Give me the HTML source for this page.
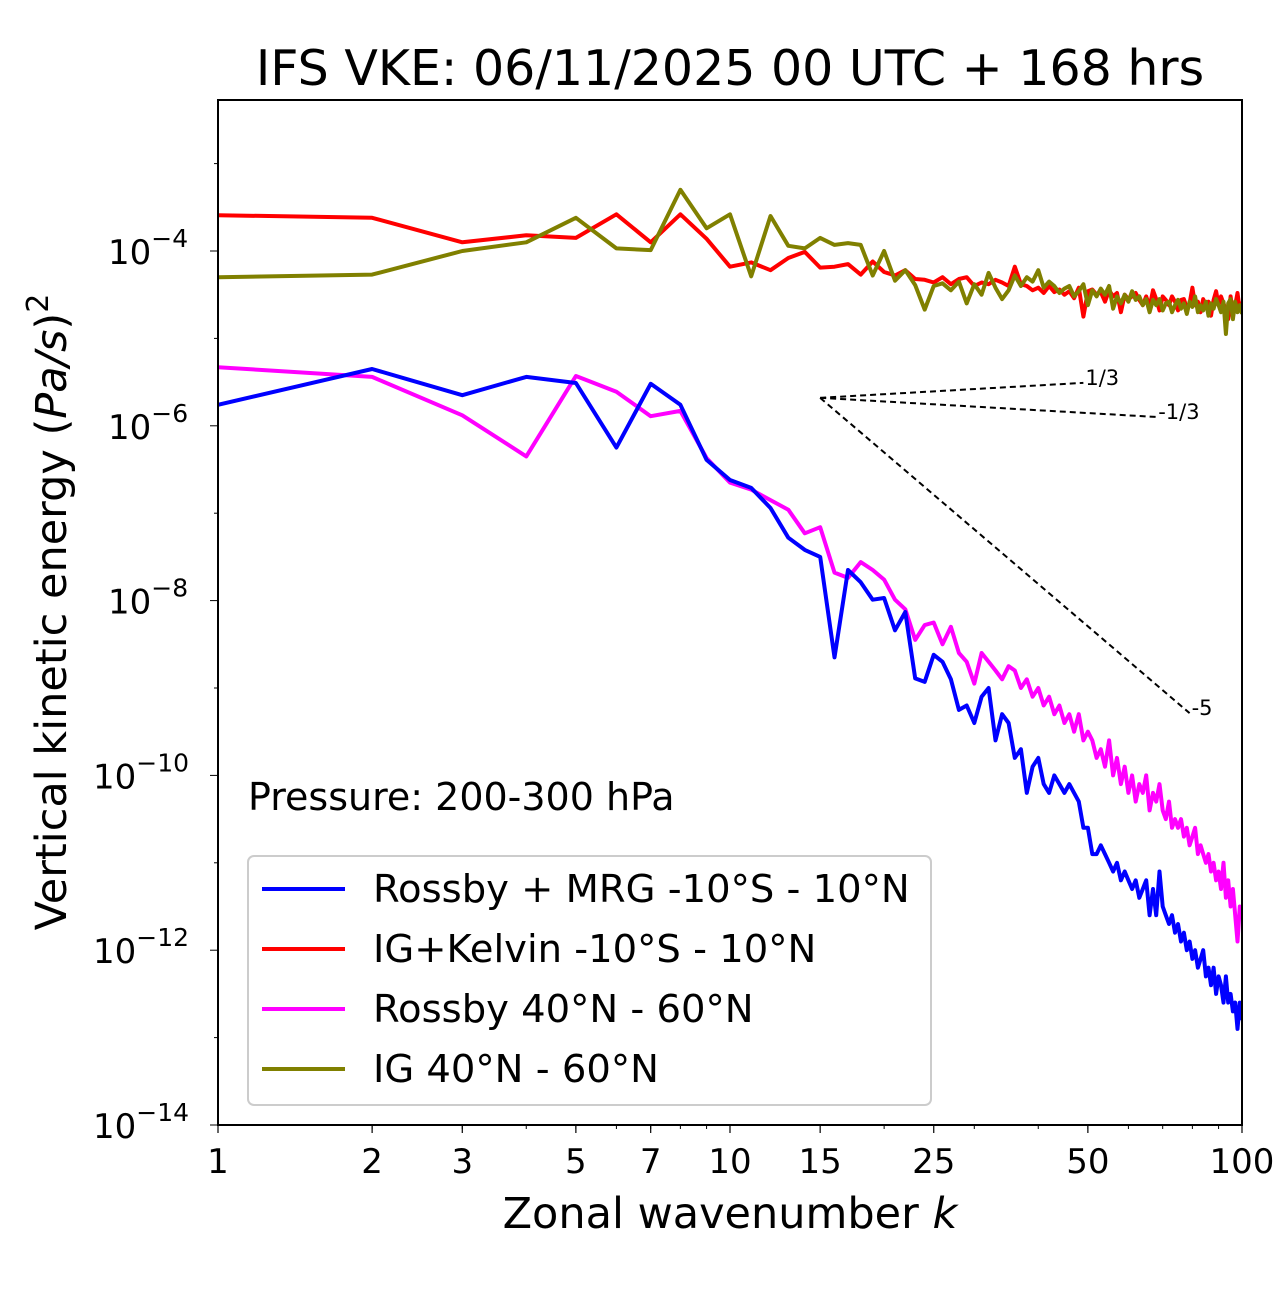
<!DOCTYPE html>
<html><head><meta charset="utf-8">
<style>
body{margin:0;background:#fff;}
svg text{font-family:"DejaVu Sans","Liberation Sans",sans-serif;fill:#000;}
</style></head>
<body>
<svg id="chart" width="1280" height="1288" xmlns="http://www.w3.org/2000/svg">
<text x="730" y="85" font-size="49" text-anchor="middle">IFS VKE: 06/11/2025 00 UTC + 168 hrs</text>
<g id="plot"></g>
</svg>
<script>
// log10 of energy, index = wavenumber k-1 (k = 1..100)
const blueLog = [-5.76,-5.35,-5.65,-5.44,-5.51,-6.25,-5.52,-5.76,-6.39,-6.62,-6.71,-6.94,-7.28,-7.42,-7.50,-8.65,-7.65,-7.79,-7.99,-7.97,-8.34,-8.13,-8.89,-8.93,-8.62,-8.7,-8.9,-9.25,-9.2,-9.4,-9.1,-9.0,-9.6,-9.3,-9.4,-9.8,-9.7,-10.2,-9.9,-9.8,-10.1,-10.2,-10.0,-10.1,-10.2,-10.1,-10.2,-10.3,-10.6,-10.6,-10.9,-10.9,-10.8,-10.9,-11.0,-11.1,-11.0,-11.2,-11.1,-11.2,-11.3,-11.2,-11.4,-11.3,-11.2,-11.6,-11.3,-11.6,-11.1,-11.5,-11.6,-11.7,-11.6,-11.8,-11.7,-11.9,-11.8,-12.0,-11.9,-12.1,-12.0,-12.2,-12.1,-12.0,-12.3,-12.2,-12.4,-12.2,-12.5,-12.3,-12.4,-12.6,-12.3,-12.6,-12.5,-12.7,-12.6,-12.9,-12.6,-12.8];
const magentaLog = [-5.33,-5.44,-5.88,-6.35,-5.43,-5.61,-5.89,-5.83,-6.37,-6.65,-6.73,-6.85,-6.96,-7.23,-7.16,-7.68,-7.74,-7.56,-7.65,-7.76,-7.99,-8.1,-8.45,-8.28,-8.25,-8.5,-8.3,-8.6,-8.7,-8.95,-8.6,-8.7,-8.8,-8.9,-8.75,-8.8,-9.0,-8.9,-9.1,-9.0,-9.2,-9.1,-9.3,-9.2,-9.4,-9.3,-9.5,-9.3,-9.6,-9.5,-9.6,-9.8,-9.7,-9.9,-9.6,-10.0,-9.8,-10.1,-9.9,-10.2,-10.0,-10.3,-10.1,-10.2,-10.0,-10.4,-10.2,-10.3,-10.1,-10.4,-10.5,-10.3,-10.6,-10.5,-10.6,-10.5,-10.7,-10.6,-10.8,-10.7,-10.6,-10.9,-10.8,-10.9,-11.0,-10.9,-11.1,-11.0,-11.2,-11.1,-11.3,-11.0,-11.4,-11.2,-11.5,-11.3,-11.6,-11.9,-11.5,-11.6];
const redLog = [-3.59,-3.62,-3.90,-3.82,-3.85,-3.58,-3.90,-3.58,-3.86,-4.18,-4.13,-4.22,-4.08,-4.01,-4.19,-4.18,-4.15,-4.27,-4.12,-4.24,-4.28,-4.22,-4.32,-4.33,-4.36,-4.30,-4.38,-4.32,-4.30,-4.40,-4.36,-4.38,-4.33,-4.36,-4.40,-4.18,-4.38,-4.40,-4.45,-4.42,-4.48,-4.40,-4.47,-4.44,-4.50,-4.46,-4.54,-4.42,-4.75,-4.46,-4.44,-4.50,-4.47,-4.58,-4.45,-4.52,-4.48,-4.70,-4.50,-4.55,-4.52,-4.48,-4.56,-4.62,-4.52,-4.64,-4.45,-4.55,-4.68,-4.52,-4.56,-4.62,-4.52,-4.58,-4.68,-4.56,-4.55,-4.65,-4.60,-4.42,-4.62,-4.58,-4.70,-4.55,-4.64,-4.58,-4.74,-4.56,-4.46,-4.62,-4.52,-4.60,-4.68,-4.78,-4.52,-4.70,-4.62,-4.48,-4.68,-4.58];
const oliveLog = [-4.30,-4.27,-4.00,-3.90,-3.62,-3.97,-3.99,-3.30,-3.74,-3.58,-4.29,-3.60,-3.94,-3.97,-3.85,-3.93,-3.91,-3.93,-4.28,-4.00,-4.34,-4.22,-4.39,-4.67,-4.40,-4.37,-4.45,-4.35,-4.60,-4.38,-4.50,-4.25,-4.42,-4.55,-4.45,-4.28,-4.40,-4.30,-4.35,-4.22,-4.42,-4.35,-4.40,-4.48,-4.43,-4.40,-4.52,-4.46,-4.38,-4.62,-4.45,-4.52,-4.43,-4.50,-4.40,-4.66,-4.52,-4.60,-4.50,-4.58,-4.46,-4.56,-4.52,-4.62,-4.55,-4.70,-4.56,-4.62,-4.55,-4.68,-4.60,-4.58,-4.70,-4.62,-4.56,-4.66,-4.60,-4.72,-4.58,-4.64,-4.52,-4.70,-4.62,-4.68,-4.58,-4.74,-4.60,-4.66,-4.55,-4.62,-4.70,-4.58,-4.95,-4.60,-4.55,-4.78,-4.58,-4.70,-4.62,-4.72];
const seriesNames = ["Rossby + MRG -10°S - 10°N","IG+Kelvin -10°S - 10°N","Rossby 40°N - 60°N","IG 40°N - 60°N"];
const xTicks = [1,2,3,5,7,10,15,25,50,100];
const yTickExps = [-14,-12,-10,-8,-6,-4];
const slopes = [1/3,-1/3,-5];
const slopeLabels = ["1/3","-1/3","-5"];
const slopeEndK = [49,68,79];

const L=218,R=1242,T=100,B=1125;
const X=k=>L+512*Math.log10(k);
const Y=e=>251+(-4-e)*87.4;
const NS="http://www.w3.org/2000/svg";
const g=document.getElementById('plot');
function mk(tag,attrs,parent){const e=document.createElementNS(NS,tag);for(const a in attrs)e.setAttribute(a,attrs[a]);(parent||g).appendChild(e);return e;}

const clip=mk('clipPath',{id:'c'});mk('rect',{x:L,y:T,width:R-L,height:B-T},clip);

for(let d=1;d<=10;d*=10)for(let m=2;m<=9;m++){const k=m*d;if(k>100)continue;const t=mk('line',{x1:X(k),x2:X(k),y1:B,y2:B+4,stroke:'#000','stroke-width':1});

}
xTicks.forEach(k=>{const t=mk('line',{x1:X(k),x2:X(k),y1:B,y2:B+8,stroke:'#000','stroke-width':1.2});


const tx=mk('text',{x:X(k),y:B+48,'font-size':34,'text-anchor':'middle'});tx.textContent=k;

});
for(let e=-14;e<=-3;e++){const t=mk('line',{x1:L-(yTickExps.includes(e)?8:4),x2:L,y1:Y(e),y2:Y(e),stroke:'#000','stroke-width':1});

}
yTickExps.forEach(e=>{const tx=mk('text',{x:(e<=-10?93:108),y:Y(e)+13,'font-size':34});
tx.innerHTML='10<tspan dy="-17" font-size="25">−'+(-e)+'</tspan>';

});

function series(arr,color,name){const p=arr.map((v,i)=>X(i+1).toFixed(1)+','+Y(v).toFixed(1)).join(' ');
const pl=mk('polyline',{points:p,fill:'none',stroke:color,'stroke-width':4,'stroke-linejoin':'round','clip-path':'url(#c)'});

}
series(redLog,'#ff0000','ig-kelvin-line');
series(oliveLog,'#808000','ig-midlat-line');
series(magentaLog,'#ff00ff','rossby-midlat-line');
series(blueLog,'#0000ff','rossby-mrg-line');

const k0=15,e0=-5.68;
slopes.forEach((s,i)=>{const k1=slopeEndK[i];const e1=e0+s*(Math.log10(k1)-Math.log10(k0));
const ln=mk('line',{x1:X(k0),y1:Y(e0),x2:X(k1),y2:Y(e1),stroke:'#000','stroke-width':2,'stroke-dasharray':'6,4'});


const tx=mk('text',{x:X(k1)+2,y:Y(e1)+2,'font-size':21});tx.textContent=slopeLabels[i];

});

const fr=mk('rect',{x:L,y:T,width:R-L,height:B-T,fill:'none',stroke:'#000','stroke-width':2});



const pr=mk('text',{x:248,y:810,'font-size':38});pr.textContent='Pressure: 200-300 hPa';



const lg=mk('rect',{x:248,y:856,width:683,height:249,rx:6,fill:'#fff',stroke:'#ccc','stroke-width':2});


const cols=['#0000ff','#ff0000','#ff00ff','#808000'];
seriesNames.forEach((n,i)=>{const y=889+i*60;
const l=mk('line',{x1:262,x2:345,y1:y,y2:y,stroke:cols[i],'stroke-width':4});


const t=mk('text',{x:373,y:y+13,'font-size':38.5});t.textContent=n;

});

const xl=mk('text',{x:730,y:1228,'font-size':43,'text-anchor':'middle'});xl.innerHTML='Zonal wavenumber <tspan font-style="italic">k</tspan>';


const yl=mk('text',{x:0,y:0,'font-size':43,'text-anchor':'middle',transform:'translate(66,612) rotate(-90)'});
yl.innerHTML='Vertical kinetic energy (<tspan font-style="italic">Pa/s</tspan>)<tspan dy="-18" font-size="30">2</tspan>';


</script>
</body></html>
